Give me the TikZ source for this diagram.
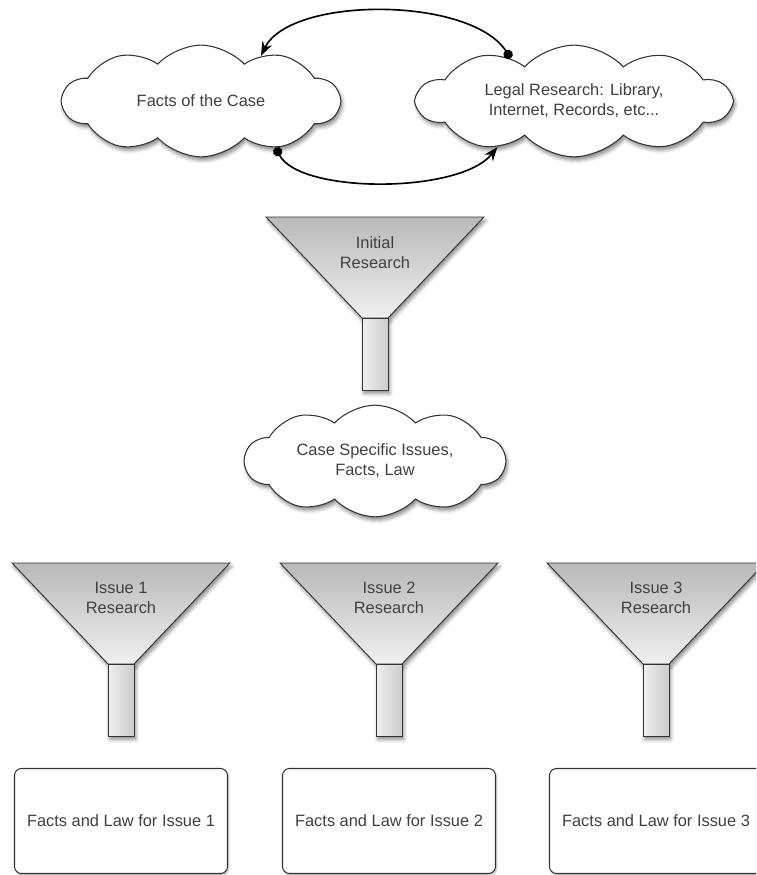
\documentclass[tikz,border=0pt]{standalone}
\usepackage{fontspec}
\setmainfont{Liberation Sans}
\usetikzlibrary{shapes.symbols,shadows.blur,arrows.meta}

\begin{document}
\begin{tikzpicture} [
    x=0.03cm, y=-0.03cm,
    every node/.style = { font=\fontsize{14}{17}\selectfont, text=black!75,
                          align=center },
    softshadow/.style = { blur shadow={shadow xshift=1.5pt, shadow yshift=-3pt,
                          shadow blur radius=3pt, shadow opacity=45} },
    cloudnode/.style  = { cloud, cloud puffs=10, cloud puff arc=95,
                          cloud ignores aspect, draw=black!80, line width=0.9pt,
                          fill=white, softshadow },
    resultbox/.style  = { rectangle, rounded corners=6pt, draw=black!80,
                          line width=0.9pt, fill=white, minimum width=6.39cm,
                          minimum height=3.15cm,
                          blur shadow={shadow xshift=1pt, shadow yshift=-1.5pt,
                          shadow blur radius=1.5pt, shadow opacity=30} },
    link/.style       = { draw, line width=1.4pt,
                          {Circle[length=8pt]}-{Stealth[length=12pt,width=9pt]} },
    funnel/.pic       = {
      \path[draw=black!80, line width=0.8pt, top color=gray!55,
            bottom color=gray!12, softshadow]
        (-109,0) -- (109,0) -- (13,101) -- (-13,101) -- cycle;
      \path[draw=black!80, line width=0.8pt, left color=gray!12,
            right color=gray!40, softshadow]
        (-13,101) rectangle (13,173);
    },
  ]

  \useasboundingbox (0,0) rectangle (756,875);
  \clip (0,0) rectangle (756,875);

  % clouds at the top
  \node[cloudnode, minimum width=8.3cm, minimum height=3.35cm] (facts)
    at (201,101) {Facts of the Case};
  \node[cloudnode, minimum width=9.4cm, minimum height=3.35cm] (legal)
    at (574,101) {Legal Research: Library,\\Internet, Records, etc...};

  % first funnel
  \pic at (375,217) {funnel};
  \node (initial) at (375,253) {Initial\\Research};

  \node[cloudnode, minimum width=7.8cm, minimum height=3.35cm] (casecloud)
    at (375,461) {Case Specific Issues,\\Facts, Law};

  % one funnel and one box per issue
  \foreach \i/\x in {1/121, 2/389, 3/656} {
    \pic at (\x,563) {funnel};
    \node (issue\i) at (\x,598) {Issue \i\\Research};
    \node[resultbox] (result\i) at (\x,821) {Facts and Law for Issue \i};
  }

  % connect the clouds
  \path [link] (legal.146) .. controls (470,-4) and (290,-4) .. (facts.37);
  \path [link] (facts.-32) .. controls (300,194) and (460,194) .. (legal.211);
\end{tikzpicture}
\end{document}
